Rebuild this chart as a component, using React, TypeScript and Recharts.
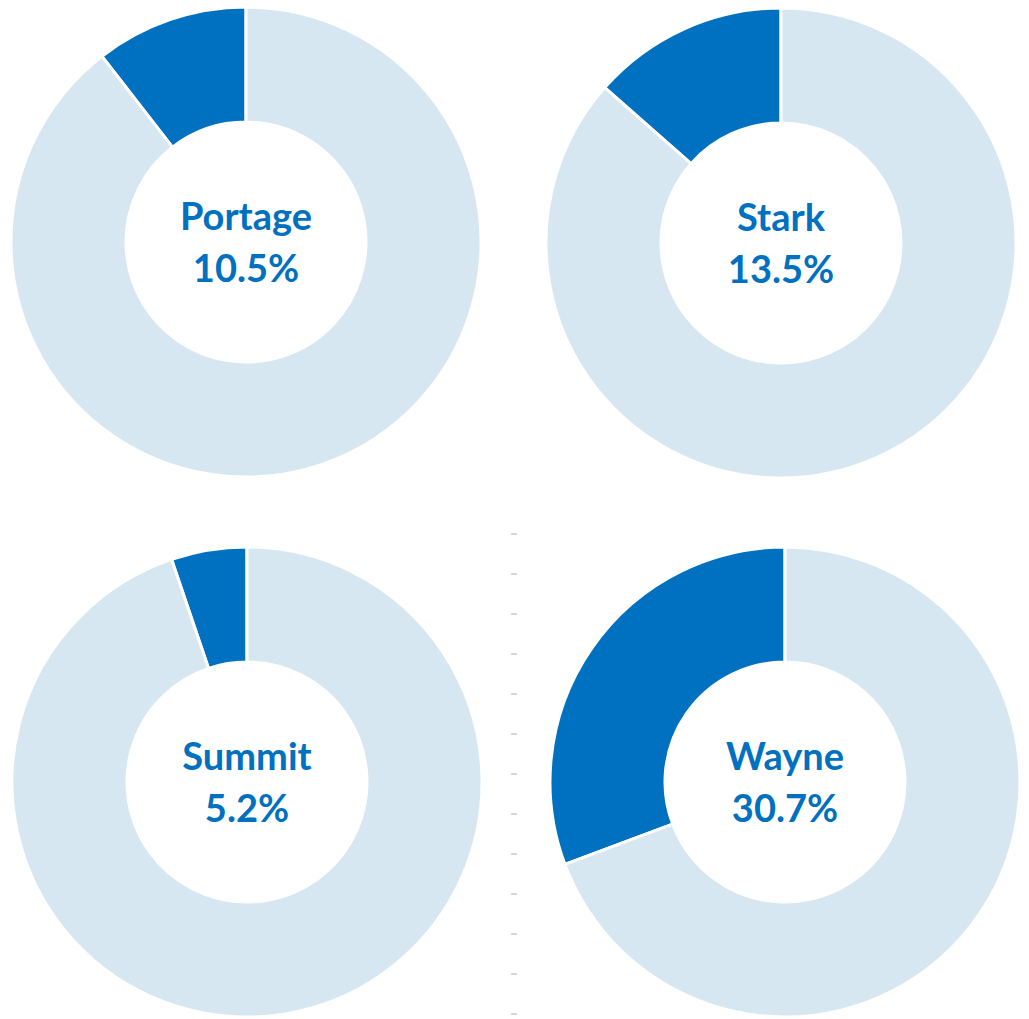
import React from 'react';
import { PieChart, Pie, Cell } from 'recharts';

const counties = ['Portage', 'Stark', 'Summit', 'Wayne'];
const shares = [10.5, 13.5, 5.2, 30.7];
const centers: [number, number][] = [
  [246, 242],
  [781, 243],
  [247, 782],
  [785, 782],
];
const tickRows = [534, 574, 614, 654, 694, 734, 774, 814, 854, 894, 934, 974, 1014];

const DARK = '#0070C0';
const LIGHT = '#D6E7F2';
const FONT = 'Lato, "Open Sans", sans-serif';

export default function App() {
  return (
    <div style={{ position: 'absolute', left: 0, top: 0, width: 1029, height: 1019, background: '#fff' }}>
      <PieChart width={1029} height={1019} margin={{ top: 0, right: 0, bottom: 0, left: 0 }}>
        {counties.map((name, i) => {
          const data = [
            { name, value: shares[i] },
            { name: 'Other', value: +(100 - shares[i]).toFixed(1) },
          ];
          return (
            <Pie
              key={name}
              data={data}
              dataKey="value"
              cx={centers[i][0]}
              cy={centers[i][1]}
              innerRadius={120}
              outerRadius={235}
              startAngle={90}
              endAngle={450}
              stroke="#fff"
              strokeWidth={3}
              isAnimationActive={false}
            >
              <Cell fill={DARK} />
              <Cell fill={LIGHT} />
            </Pie>
          );
        })}
      </PieChart>
      <svg width={1029} height={1019} style={{ position: 'absolute', left: 0, top: 0, pointerEvents: 'none' }}>
        {tickRows.map((y) => (
          <line key={y} x1={511} x2={517} y1={y} y2={y} stroke="#c8c8c8" strokeWidth={1.5} />
        ))}
        {counties.map((name, i) => (
          <g key={name} fill={DARK} style={{ fontFamily: FONT, fontWeight: 700, fontSize: 38 }}>
            <text x={centers[i][0]} y={centers[i][1] - 27} textAnchor="middle" dominantBaseline="central">
              {name}
            </text>
            <text x={centers[i][0]} y={centers[i][1] + 25} textAnchor="middle" dominantBaseline="central">
              {shares[i].toFixed(1)}%
            </text>
          </g>
        ))}
      </svg>
    </div>
  );
}
